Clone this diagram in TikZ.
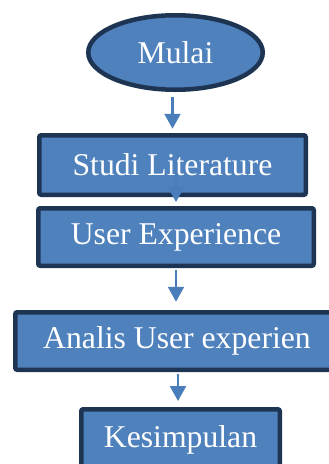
\documentclass[tikz,border=0pt]{standalone}
\usepackage{fontspec}
\setmainfont{Liberation Serif}
\usetikzlibrary{shapes.geometric,arrows.meta}
\definecolor{boxfill}{HTML}{4F81BD}
\definecolor{boxline}{HTML}{1D3553}
\definecolor{arrowcol}{HTML}{4A7EBB}
\tikzset{
  stepbox/.style={rectangle, draw=boxline, fill=boxfill, line width=4.5pt, rounded corners=2pt,
    inner sep=0pt, text=white, font=\fontsize{31.7}{38}\selectfont},
  startnode/.style={ellipse, draw=boxline, fill=boxfill, line width=4.5pt, inner sep=0pt,
    text=white, font=\fontsize{31.7}{38}\selectfont},
  arr/.style={draw=arrowcol, line width=2.4pt, -{Triangle[width=16pt,length=15pt]}}
}
\begin{document}
\begin{tikzpicture}[x=1pt,y=-1pt]
\useasboundingbox (0,0) rectangle (329,464);
\clip (0,0) rectangle (329,464);
\node[startnode, minimum width=174.5pt, minimum height=74.5pt] (mulai) at (175.5,52.5) {Mulai};
\node[stepbox, minimum width=266.5pt, minimum height=59.5pt] (studi) at (172.5,165) {Studi Literature};
\node[stepbox, minimum width=275.5pt, minimum height=57.5pt] (ux) at (176,237) {User Experience};
\node[stepbox, minimum width=323.5pt, minimum height=57.5pt] (analis) at (177,341) {Analis User experien};
\node[stepbox, minimum width=198.5pt, minimum height=61.5pt] (kes) at (180.5,440) {Kesimpulan};
\draw[arr, shorten <=5pt, shorten >=4.25pt] (studi.north |- mulai.south) -- (studi.north);
\draw[arr, shorten >=4pt] ([yshift=5pt]ux.north |- studi.center) -- (ux.north);
\draw[arr, shorten <=2pt, shorten >=8.25pt] (ux.south) -- (ux.south |- analis.north);
\draw[arr, shorten <=2pt, shorten >=6pt] ([xshift=1pt]analis.south) -- ([xshift=1pt]analis.south |- kes.north);
\end{tikzpicture}
\end{document}
